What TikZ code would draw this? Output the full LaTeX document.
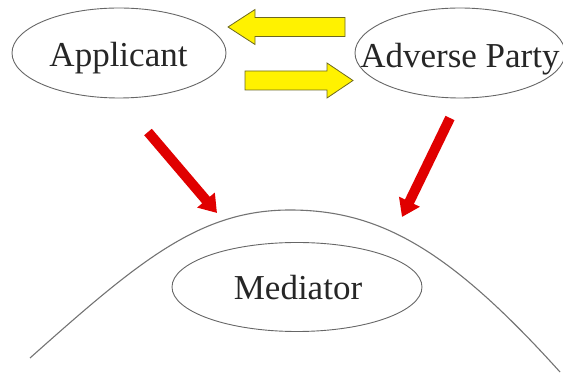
\documentclass[tikz,border=0pt]{standalone}
\usepackage{fontspec}
\setmainfont{Liberation Serif}
\usetikzlibrary{shapes.geometric,arrows.meta}
\begin{document}
\begin{tikzpicture}[x=1pt,y=-1pt,
  party/.style={ellipse, draw=black!60, line width=0.9pt, inner sep=0pt},
  lbl/.style={anchor=base, text=black!85, font=\fontsize{35}{40}\selectfont},
  swapbox/.style={fill=yellow, draw=olive!70!black, line width=0.8pt, line join=miter},
  push/.style={draw=red!88!black, line width=10pt, -{Triangle[length=17pt,width=22pt]}},
  hill/.style={draw=black!55, line width=1.1pt}]
\useasboundingbox (0,0) rectangle (563,379);

% the hill on which the mediator stands
\coordinate (h0) at (30,358);
\coordinate (htop) at (290,210);
\coordinate (h1) at (560,372);
\draw[hill] (h0) .. controls (140,260) and (200,210) .. (htop)
            .. controls (380,210) and (450,250) .. (h1);

% parties
\node[party, minimum width=214pt, minimum height=90pt] (app) at (119,53) {};
\node[party, minimum width=210pt, minimum height=90pt] (adv) at (460,53) {};
\node[party, minimum width=250pt, minimum height=89pt] (med) at (297,287) {};
\node[lbl] (appt) at (118.5,67) {Applicant};
\node[lbl] (advt) at (460,68) {Adverse Party};
\node[lbl] (medt) at (298,300) {Mediator};

% exchange between the parties
\draw[swapbox] (228,27) -- (255,9.5) -- (255,17.5) -- (345,17.5) -- (345,36.5)
               -- (255,36.5) -- (255,44.5) -- cycle;
\draw[swapbox] (353,80.5) -- (327,63) -- (327,71) -- (245,71) -- (245,90)
               -- (327,90) -- (327,98) -- cycle;

% both parties turn to the mediator
\coordinate (pa0) at (148,132);
\coordinate (pa1) at (217,213);
\coordinate (pb0) at (450,118);
\coordinate (pb1) at (402,217);
\draw[push] (pa0) -- (pa1);
\draw[push] (pb0) -- (pb1);
\end{tikzpicture}
\end{document}
